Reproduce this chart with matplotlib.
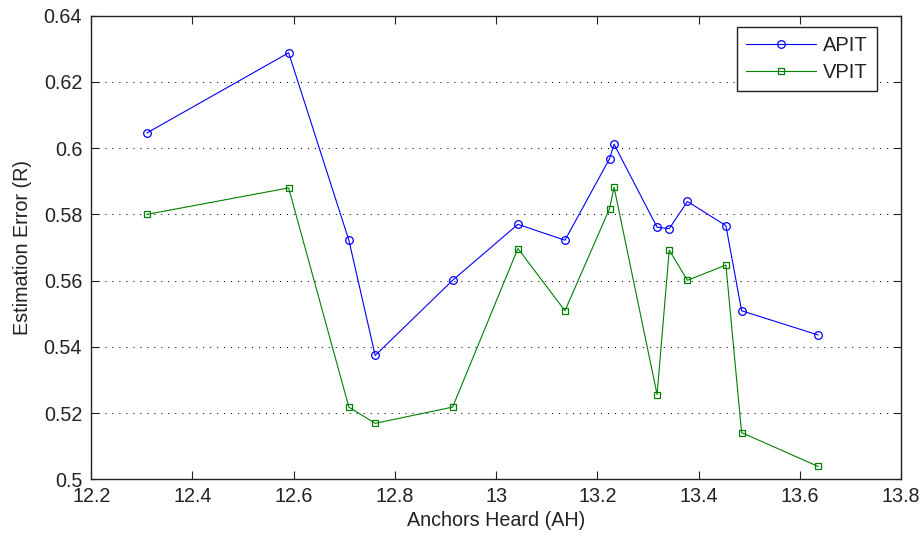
import matplotlib
matplotlib.use("Agg")
import matplotlib.pyplot as plt
from matplotlib.ticker import MultipleLocator

plt.rcParams['font.family'] = ['Liberation Sans', 'DejaVu Sans']

anchors_heard = [12.310, 12.590, 12.709, 12.761, 12.914, 13.043, 13.136, 13.224,
                 13.233, 13.318, 13.342, 13.378, 13.454, 13.485, 13.636]
apit = [0.6046, 0.6288, 0.5722, 0.5374, 0.5601, 0.5770, 0.5722, 0.5968,
        0.6012, 0.5761, 0.5757, 0.5839, 0.5766, 0.5509, 0.5436]
vpit = [0.5800, 0.5880, 0.5218, 0.5169, 0.5218, 0.5697, 0.5509, 0.5817,
        0.5882, 0.5256, 0.5692, 0.5601, 0.5647, 0.5141, 0.5039]

fig = plt.figure(figsize=(9.21, 5.38), dpi=100)
ax = fig.add_axes([0.0991, 0.1091, 0.8792, 0.8617])

ax.plot(anchors_heard, apit, color=(0, 0, 1), lw=0.8, marker='o', ms=5.5,
        mfc='none', mec=(0, 0, 1), mew=0.9, label='APIT')
ax.plot(anchors_heard, vpit, color=(0, 0.5, 0), lw=0.8, marker='s', ms=4.8,
        mfc='none', mec=(0, 0.5, 0), mew=0.9, label='VPIT')

ax.set_xlim(12.2, 13.8)
ax.set_ylim(0.5, 0.64)
ax.xaxis.set_major_locator(MultipleLocator(0.2))
ax.yaxis.set_major_locator(MultipleLocator(0.02))
ax.set_xticklabels([f"{v:g}" for v in ax.get_xticks()])
ax.set_yticklabels([f"{v:g}" for v in ax.get_yticks()])

ax.yaxis.grid(True, linestyle=(0, (1, 5.7)), color='black', lw=0.75)
ax.tick_params(direction='in', top=True, right=True, length=5.8, width=0.8,
               labelsize=14.2, colors='#222222')
ax.tick_params(axis='x', pad=5.5)
ax.tick_params(axis='y', pad=6.5)
for s in ax.spines.values():
    s.set_linewidth(1.0)
    s.set_color('#222222')

ax.set_xlabel('Anchors Heard (AH)', fontsize=14.2, labelpad=4, color='#222222')
ax.set_ylabel('Estimation Error (R)', fontsize=14.2, labelpad=8.5, color='#222222')

leg = ax.legend(loc='upper right', bbox_to_anchor=(0.9704, 0.9756), borderaxespad=0,
                fontsize=14.5, fancybox=False, framealpha=1, edgecolor='#222222',
                borderpad=0.45, handlelength=3.5, handletextpad=0.35,
                labelspacing=0.4)
leg.get_frame().set_linewidth(1.0)
for t in leg.get_texts():
    t.set_color('#222222')

fig.savefig('out.png', dpi=100)
